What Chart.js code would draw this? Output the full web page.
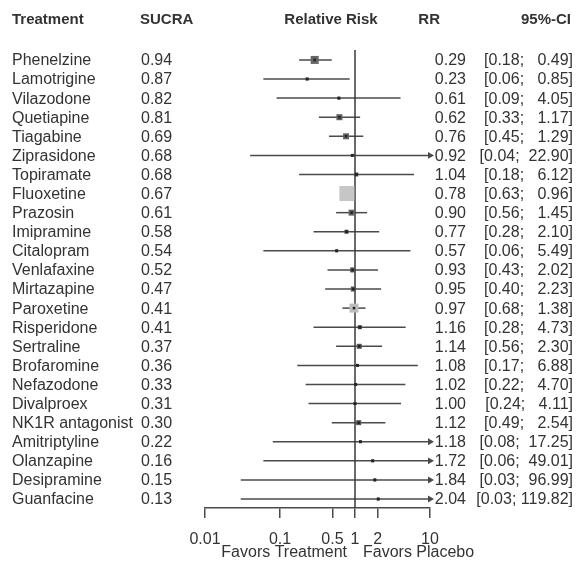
<!DOCTYPE html>
<html>
<head>
<meta charset="utf-8">
<script src="https://cdn.jsdelivr.net/npm/chart.js@4/dist/chart.umd.min.js"></script>
<style>
  html, body { margin: 0; padding: 0; background: #fff; }
  canvas { display: block; }
</style>
</head>
<body>
<canvas id="forest" width="576" height="564"></canvas>
<script>
// Network meta-analysis: relative risk of each treatment versus placebo
const treatments = [
  'Phenelzine', 'Lamotrigine', 'Vilazodone', 'Quetiapine', 'Tiagabine', 'Ziprasidone',
  'Topiramate', 'Fluoxetine', 'Prazosin', 'Imipramine', 'Citalopram', 'Venlafaxine',
  'Mirtazapine', 'Paroxetine', 'Risperidone', 'Sertraline', 'Brofaromine', 'Nefazodone',
  'Divalproex', 'NK1R antagonist', 'Amitriptyline', 'Olanzapine', 'Desipramine', 'Guanfacine'
];
const sucra = [0.94, 0.87, 0.82, 0.81, 0.69, 0.68, 0.68, 0.67, 0.61, 0.58, 0.54, 0.52,
               0.47, 0.41, 0.41, 0.37, 0.36, 0.33, 0.31, 0.30, 0.22, 0.16, 0.15, 0.13];
const rr = [0.29, 0.23, 0.61, 0.62, 0.76, 0.92, 1.04, 0.78, 0.90, 0.77, 0.57, 0.93,
            0.95, 0.97, 1.16, 1.14, 1.08, 1.02, 1.00, 1.12, 1.18, 1.72, 1.84, 2.04];
const ciLow = [0.18, 0.06, 0.09, 0.33, 0.45, 0.04, 0.18, 0.63, 0.56, 0.28, 0.06, 0.43,
               0.40, 0.68, 0.28, 0.56, 0.17, 0.22, 0.24, 0.49, 0.08, 0.06, 0.03, 0.03];
const ciHigh = [0.49, 0.85, 4.05, 1.17, 1.29, 22.90, 6.12, 0.96, 1.45, 2.10, 5.49, 2.02,
                2.23, 1.38, 4.73, 2.30, 6.88, 4.70, 4.11, 2.54, 17.25, 49.01, 96.99, 119.82];
const axisTicks = [0.01, 0.1, 0.5, 1, 2, 10];

// Square side (px) and fill per row, reflecting the weight of each estimate
const markerSide = [8, 3, 3, 6, 6, 3, 4, 15, 6, 4, 3, 5, 5, 9, 4, 5, 3, 3, 3, 5, 3, 3, 3, 3];
const markerFill = ['#666', '#333', '#333', '#5e5e5e', '#666', '#333', '#444', '#c6c6c6',
                    '#666', '#444', '#333', '#555', '#555', '#bdbdbd', '#444', '#555',
                    '#333', '#333', '#333', '#555', '#333', '#333', '#333', '#333'];

const X_MIN = 0.01, X_MAX = 10;
const Y_MIN = -0.52, Y_MAX = 23.47;
const FONT = '"Liberation Sans", Arial, Helvetica, sans-serif';
const TEXT = '#333333';
const LINE = '#4a4a4a';
const CI_RIGHT = 573;

const datasets = [];

// confidence interval segments; intervals beyond the axis end in an arrow
treatments.forEach((t, i) => {
  const clipped = ciHigh[i] > X_MAX;
  datasets.push({
    label: t + ' CI',
    showLine: true,
    data: [{ x: ciLow[i], y: i }, { x: Math.min(ciHigh[i], X_MAX), y: i }],
    borderColor: LINE,
    borderWidth: 1.5,
    pointRadius: [0, clipped ? 4 : 0],
    pointStyle: 'triangle',
    rotation: 90,
    pointBackgroundColor: LINE,
    pointBorderColor: LINE,
    pointBorderWidth: 0,
    clip: false,
    order: 4
  });
});

// line of no effect
datasets.push({
  label: 'no effect',
  showLine: true,
  data: [{ x: 1, y: Y_MIN }, { x: 1, y: Y_MAX }],
  borderColor: '#3a3a3a',
  borderWidth: 1.5,
  pointRadius: 0,
  clip: false,
  order: 3
});

// weighted squares at the point estimate
datasets.push({
  label: 'RR',
  data: rr.map((v, i) => ({ x: v, y: i })),
  pointStyle: 'rect',
  pointRadius: markerSide.map(s => s / Math.SQRT2),
  backgroundColor: markerFill,
  borderWidth: 0,
  clip: false,
  order: 2
});

// dark centre dot on the smaller-weight squares
datasets.push({
  label: 'RR centre',
  data: rr.map((v, i) => ({ x: v, y: i })),
  pointStyle: 'rect',
  pointRadius: markerSide.map(s => (s >= 12 ? 0 : 1.8)),
  backgroundColor: '#222',
  borderWidth: 0,
  clip: false,
  order: 1
});

function fmt(v) { return v.toFixed(2); }

// width of the widest upper limit, used to pad the interval column
const hiWidth = Math.max(...ciHigh.map(v => fmt(v).length));

const tablePlugin = {
  id: 'forestTable',
  afterDraw(chart) {
    const ctx = chart.ctx;
    const ys = chart.scales.y;
    const xs = chart.scales.x;
    ctx.save();
    ctx.fillStyle = TEXT;
    ctx.textBaseline = 'middle';

    // column headers
    ctx.font = 'bold 15px ' + FONT;
    const hy = 20;
    ctx.textAlign = 'left';
    ctx.fillText('Treatment', 12, hy);
    ctx.fillText('SUCRA', 140, hy);
    ctx.textAlign = 'center';
    ctx.fillText('Relative Risk', 331, hy);
    ctx.textAlign = 'right';
    ctx.fillText('RR', 440, hy);
    ctx.fillText('95%-CI', 571, hy);

    // one row per treatment
    ctx.font = '16px ' + FONT;
    const space = ctx.measureText(' ').width;
    treatments.forEach((t, i) => {
      const y = ys.getPixelForValue(i) + 1;
      ctx.textAlign = 'left';
      ctx.fillText(t, 12, y);
      ctx.fillText(fmt(sucra[i]), 141, y);
      ctx.textAlign = 'right';
      ctx.fillText(fmt(rr[i]), 466, y);
      const hi = fmt(ciHigh[i]) + ']';
      const lo = '[' + fmt(ciLow[i]) + ';';
      const pad = hiWidth - fmt(ciHigh[i]).length + 1;
      const total = ctx.measureText(lo).width + pad * space + ctx.measureText(hi).width;
      ctx.textAlign = 'left';
      ctx.fillText(lo, CI_RIGHT - total, y);
      ctx.textAlign = 'right';
      ctx.fillText(hi, CI_RIGHT, y);
    });

    // direction captions under the axis
    const x1 = xs.getPixelForValue(1);
    ctx.textAlign = 'right';
    ctx.fillText('Favors Treatment', x1 - 8, 553);
    ctx.textAlign = 'left';
    ctx.fillText('Favors Placebo', x1 + 8, 553);
    ctx.restore();
  }
};

new Chart(document.getElementById('forest'), {
  type: 'scatter',
  data: { datasets },
  options: {
    responsive: false,
    animation: false,
    events: [],
    devicePixelRatio: 1,
    layout: { padding: { left: 205, right: 146, top: 50, bottom: 0 } },
    plugins: { legend: { display: false }, tooltip: { enabled: false } },
    scales: {
      x: {
        type: 'logarithmic',
        position: 'bottom',
        min: X_MIN,
        max: X_MAX,
        afterBuildTicks: s => { s.ticks = axisTicks.map(v => ({ value: v })); },
        afterFit: s => { s.height = 56; },
        ticks: {
          callback: v => String(v),
          font: { family: FONT, size: 16 },
          color: TEXT,
          padding: 12,
          autoSkip: false,
          maxRotation: 0
        },
        grid: { drawOnChartArea: false, drawTicks: true, tickLength: 10, color: LINE, lineWidth: 1.5 },
        border: { display: true, color: LINE, width: 1.5 }
      },
      y: {
        type: 'linear',
        reverse: true,
        min: Y_MIN,
        max: Y_MAX,
        display: false
      }
    }
  },
  plugins: [tablePlugin]
});
</script>
</body>
</html>
